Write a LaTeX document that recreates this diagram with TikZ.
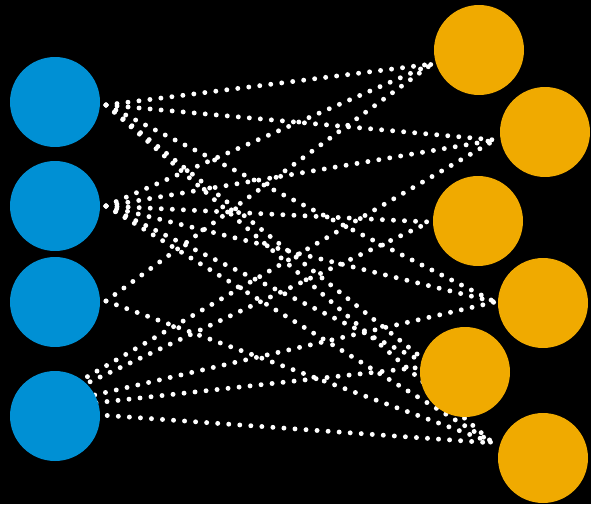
\documentclass[tikz,border=0pt]{standalone}
\usetikzlibrary{positioning}
\definecolor{inblue}{RGB}{0,144,212}
\definecolor{outorange}{RGB}{240,170,0}
\begin{document}
\begin{tikzpicture}[x=0.02cm,y=-0.02cm,
    inunit/.style={circle,fill=inblue,minimum size=1.8cm,inner sep=0pt},
    outunit/.style={circle,fill=outorange,minimum size=1.8cm,inner sep=0pt},
    link/.style={white,line width=2.8pt,line cap=round,dash pattern=on 0pt off 6.3pt}]
\fill[black] (0,0) rectangle (591,504);
\useasboundingbox (0,0) rectangle (591,504);
% link ends
\coordinate (a1) at (106,105);
\coordinate (a2) at (106,206);
\coordinate (a3) at (106,301);
\coordinate (a4) at (30,410);
\coordinate (b1) at (432,64);
\coordinate (b2) at (495,140);
\coordinate (b3) at (430,222);
\coordinate (b4) at (495,302);
\coordinate (b5) at (432,366);
\coordinate (b6) at (493,443);
% links
\foreach \s/\t in {a1/b1,a1/b2,a1/b4,a1/b5,a1/b6,
                   a2/b1,a2/b2,a2/b3,a2/b4,a2/b5,a2/b6,
                   a3/b1,a3/b6,
                   a4/b2,a4/b3,a4/b4,a4/b5,a4/b6}
  \draw[link] (\s) -- (\t);
% units
\node[inunit] (i1) at (55,102) {};
\node[inunit] (i2) at (55,206) {};
\node[inunit] (i3) at (55,302) {};
\node[inunit] (i4) at (55,416) {};
\node[outunit] (o1) at (479,50) {};
\node[outunit] (o2) at (545,132) {};
\node[outunit] (o3) at (478,221) {};
\node[outunit] (o4) at (543,303) {};
\node[outunit] (o5) at (465,372) {};
\node[outunit] (o6) at (543,458) {};
\end{tikzpicture}
\end{document}
